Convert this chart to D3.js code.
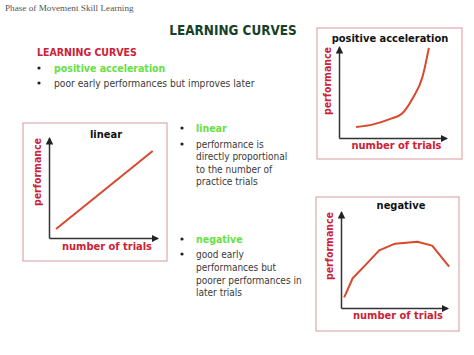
<!DOCTYPE html>
<html>
<head>
<meta charset="utf-8">
<script src="https://cdn.jsdelivr.net/npm/d3@7"></script>
<style>
  body { margin: 0; background: #fff; }
  svg { display: block; }
</style>
</head>
<body>
<script>
// curve data, in axis units (trials 0-10, performance 0-10)
const positiveTrials = [1.6, 3.2, 4.8, 5.9, 6.9, 7.8, 8.4];
const positivePerf = [1.2, 1.5, 2.1, 2.7, 4.4, 6.7, 9.9];
const linearTrials = [0.65, 9.6];
const linearPerf = [0.9, 8.7];
const negativeTrials = [0.3, 1.1, 2.5, 3.6, 5.1, 7.2, 8.6, 10.2];
const negativePerf = [1.1, 3.1, 4.7, 6.0, 6.7, 6.9, 6.5, 4.3];

const panelTitles = ["positive acceleration", "linear", "negative"];
const xLabel = "number of trials";
const yLabel = "performance";

const W = 474, H = 355;
const font = "'DejaVu Sans Condensed', 'DejaVu Sans', Verdana, sans-serif";
const red = "#cc2235";
const green = "#66e044";
const grey = "#3a3a3a";
const curveColor = "#d9472c";

const svg = d3.select("body").append("svg")
    .attr("width", W).attr("height", H);

svg.append("defs").append("marker")
    .attr("id", "arrow")
    .attr("viewBox", "0 0 10 10")
    .attr("refX", 8).attr("refY", 5)
    .attr("markerWidth", 5).attr("markerHeight", 5)
    .attr("orient", "auto-start-reverse")
    .append("path")
    .attr("d", "M0,0 L10,5 L0,10 z")
    .attr("fill", "#222");

// header
svg.append("text")
    .attr("x", 5).attr("y", 11)
    .style("font-family", "'Liberation Serif', 'Times New Roman', serif")
    .style("font-size", "9.2px")
    .attr("fill", "#555")
    .text("Phase of Movement Skill Learning");

svg.append("text")
    .attr("x", 233).attr("y", 35)
    .attr("text-anchor", "middle")
    .style("font-family", font)
    .style("font-size", "13.4px")
    .style("font-weight", "bold")
    .attr("fill", "#17402a")
    .text("LEARNING CURVES");

// bullet text blocks
function textBlock(x, y, lines, opts) {
    lines.forEach((ln, i) => {
        svg.append("text")
            .attr("x", x).attr("y", y + i * opts.lh)
            .style("font-family", font)
            .style("font-size", opts.size + "px")
            .style("font-weight", opts.bold ? "bold" : "normal")
            .attr("fill", opts.color)
            .text(ln);
    });
}
function bullet(x, y) {
    svg.append("circle").attr("cx", x).attr("cy", y).attr("r", 1.6).attr("fill", "#222");
}

textBlock(37, 56, ["LEARNING CURVES"], {size: 10.5, bold: true, color: red, lh: 12});
bullet(39, 68);
textBlock(54, 72, ["positive acceleration"], {size: 10.5, bold: true, color: green, lh: 12});
bullet(39, 83);
textBlock(54, 87, ["poor early performances but improves later"], {size: 10.2, color: grey, lh: 12});

bullet(182, 128);
textBlock(196, 132, ["linear"], {size: 10.5, bold: true, color: green, lh: 12});
bullet(182, 144);
textBlock(196, 148, ["performance is", "directly proportional", "to the number of", "practice trials"], {size: 10, color: grey, lh: 12.3});

bullet(182, 239);
textBlock(196, 243, ["negative"], {size: 10.5, bold: true, color: green, lh: 12});
bullet(182, 254);
textBlock(196, 258, ["good early", "performances but", "poorer performances in", "later trials"], {size: 10, color: grey, lh: 12.8});

// panels
const panels = [
    {title: panelTitles[0], trials: positiveTrials, perf: positivePerf, xMax: 10,
     box: [317, 28, 462, 159], origin: [339, 138], xEnd: 446, yTop: 47, titleX: 390, titleY: 42, labelY: 149, yLabelX: 327, curve: d3.curveMonotoneX},
    {title: panelTitles[1], trials: linearTrials, perf: linearPerf, xMax: 10,
     box: [23, 123, 167, 261], origin: [49, 238], xEnd: 157, yTop: 138, titleX: 106, titleY: 138, labelY: 250, yLabelX: 37, curve: d3.curveLinear},
    {title: panelTitles[2], trials: negativeTrials, perf: negativePerf, xMax: 10,
     box: [316, 197, 459, 331], origin: [341, 308], xEnd: 447, yTop: 212, titleX: 401, titleY: 209, labelY: 319, yLabelX: 329, curve: d3.curveLinear}
];

panels.forEach(p => {
    const [bx0, by0, bx1, by1] = p.box;
    svg.append("rect")
        .attr("x", bx0).attr("y", by0)
        .attr("width", bx1 - bx0).attr("height", by1 - by0)
        .attr("fill", "none")
        .attr("stroke", "#dfa9ab")
        .attr("stroke-width", 1.2);

    const x = d3.scaleLinear().domain([0, p.xMax]).range([p.origin[0], p.xEnd]);
    const y = d3.scaleLinear().domain([0, 10]).range([p.origin[1], p.yTop]);

    // axes without ticks
    const xa = svg.append("g")
        .attr("transform", `translate(0,${p.origin[1]})`)
        .call(d3.axisBottom(x).tickValues([]).tickSizeOuter(0));
    const ya = svg.append("g")
        .attr("transform", `translate(${p.origin[0]},0)`)
        .call(d3.axisLeft(y).tickValues([]).tickSizeOuter(0));
    [xa, ya].forEach(a => a.select(".domain")
        .attr("stroke", "#333")
        .attr("stroke-width", 1.5)
        .attr("marker-end", "url(#arrow)"));

    const pts = p.trials.map((t, i) => [t, p.perf[i]]);
    svg.append("path")
        .datum(pts)
        .attr("fill", "none")
        .attr("stroke", curveColor)
        .attr("stroke-width", 2)
        .attr("stroke-linejoin", "round")
        .attr("d", d3.line().x(d => x(d[0])).y(d => y(d[1])).curve(p.curve));

    svg.append("text")
        .attr("x", p.titleX)
        .attr("y", p.titleY)
        .attr("text-anchor", "middle")
        .style("font-family", font)
        .style("font-size", "11px")
        .style("font-weight", "bold")
        .attr("fill", "#111")
        .text(p.title);

    svg.append("text")
        .attr("x", (p.origin[0] + p.xEnd) / 2 + 4)
        .attr("y", p.labelY)
        .attr("text-anchor", "middle")
        .style("font-family", font)
        .style("font-size", "11px")
        .style("font-weight", "bold")
        .attr("fill", red)
        .text(xLabel);

    svg.append("text")
        .attr("transform", `translate(${p.yLabelX + 4},${p.yTop}) rotate(-90)`)
        .attr("text-anchor", "end")
        .style("font-family", font)
        .style("font-size", "10.5px")
        .style("font-weight", "bold")
        .attr("fill", red)
        .text(yLabel);
});
</script>
</body>
</html>
